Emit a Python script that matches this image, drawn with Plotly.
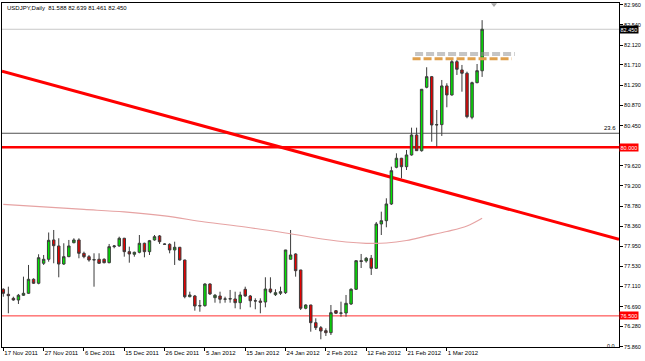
import plotly.graph_objects as go

# ---- data (USDJPY daily, 17 Nov 2011 .. 9 Mar 2012) ----
OPEN = [77.052, 76.948, 76.865, 76.830, 76.928, 76.969, 77.260, 77.177, 77.592, 77.675,
        78.076, 77.951, 77.577, 77.729, 78.019, 78.076, 77.799, 77.729, 77.660, 77.675,
        77.675, 77.604, 77.937, 77.951, 78.111, 77.833, 77.779, 77.820, 78.007, 77.833,
        78.076, 78.159, 77.993, 77.986, 77.868, 77.924, 77.660, 76.898, 76.913, 76.705,
        76.712, 77.162, 76.878, 76.913, 76.845, 76.851, 76.851, 76.774, 77.052, 76.913,
        76.815, 76.809, 76.788, 77.058, 76.940, 76.969, 76.982, 77.675, 77.785, 77.453,
        76.658, 76.726, 76.359, 76.255, 76.193, 76.151, 76.608, 76.554, 76.560, 76.747,
        77.052, 77.646, 77.640, 77.696, 77.488, 78.408, 78.476, 78.823, 79.585, 79.772,
        79.597, 79.840, 80.255, 79.929, 81.246, 81.466, 80.463, 80.470, 81.273, 81.086,
        81.777, 81.605, 81.536, 80.623, 81.341, 81.588]
HIGH = [77.073, 77.106, 76.898, 76.955, 77.314, 77.557, 77.280, 77.779, 77.764, 78.231,
        78.283, 78.111, 78.007, 78.076, 78.111, 78.111, 77.833, 77.764, 77.799, 77.799,
        77.696, 77.993, 77.972, 78.144, 78.120, 77.937, 77.833, 78.179, 78.019, 78.076,
        78.179, 78.179, 78.007, 78.007, 78.040, 77.930, 77.665, 77.002, 76.934, 76.830,
        77.177, 77.177, 76.955, 77.002, 76.898, 77.038, 77.002, 77.002, 77.106, 76.934,
        76.865, 76.865, 77.301, 77.301, 77.052, 77.106, 77.870, 78.283, 77.799, 77.455,
        76.741, 76.730, 76.450, 76.290, 76.242, 76.726, 76.622, 76.795, 76.934, 77.073,
        77.650, 77.785, 77.723, 77.764, 78.449, 78.663, 78.941, 79.597, 79.875, 79.780,
        79.944, 80.407, 80.407, 81.210, 81.661, 81.480, 80.774, 81.397, 81.329, 81.812,
        81.812, 81.709, 81.570, 81.362, 81.729, 82.639]
LOW = [76.898, 76.554, 76.815, 76.747, 76.913, 76.955, 77.162, 77.156, 77.557, 77.625,
       77.592, 77.301, 77.557, 77.720, 78.007, 77.696, 77.696, 77.625, 77.106, 77.577,
       77.590, 77.592, 77.903, 77.937, 77.729, 77.604, 77.729, 77.799, 77.716, 77.764,
       78.061, 77.993, 77.972, 77.799, 77.557, 77.650, 76.865, 76.886, 76.608, 76.587,
       76.691, 76.934, 76.774, 76.761, 76.774, 76.774, 76.658, 76.637, 76.898, 76.678,
       76.637, 76.554, 76.678, 76.969, 76.913, 76.934, 76.955, 77.675, 77.314, 76.622,
       76.637, 76.172, 76.207, 76.014, 76.083, 76.103, 76.539, 76.483, 76.483, 76.726,
       77.038, 77.494, 77.604, 77.349, 77.474, 78.179, 78.339, 78.802, 79.564, 79.356,
       79.529, 79.826, 79.923, 79.909, 81.225, 80.116, 80.013, 80.235, 80.830, 81.071,
       81.501, 81.154, 80.602, 80.581, 81.329, 81.461]
CLOSE = [76.969, 76.919, 76.830, 76.928, 76.969, 77.260, 77.177, 77.708, 77.675, 78.069,
         77.957, 77.577, 77.729, 77.951, 78.076, 77.799, 77.729, 77.660, 77.667, 77.592,
         77.604, 77.937, 77.951, 78.111, 77.833, 77.785, 77.820, 78.007, 77.833, 78.061,
         78.144, 78.040, 77.986, 77.868, 77.924, 77.660, 76.898, 76.934, 76.705, 76.712,
         77.162, 76.955, 76.928, 76.845, 76.851, 76.856, 76.774, 76.934, 76.913, 76.815,
         76.809, 76.782, 77.058, 76.996, 76.982, 77.002, 77.868, 77.764, 77.438, 76.658,
         76.726, 76.359, 76.255, 76.186, 76.151, 76.566, 76.554, 76.560, 76.761, 77.052,
         77.646, 77.630, 77.696, 77.488, 78.408, 78.476, 78.823, 79.514, 79.772, 79.597,
         79.840, 80.255, 79.929, 81.204, 81.466, 80.463, 80.470, 81.273, 81.086, 81.777,
         81.619, 81.536, 80.635, 81.341, 81.590, 82.450]
BAR = list(range(len(OPEN)))

# 200-day moving average, read at selected bars
MA_BAR = [0, 8, 16, 24, 32, 40, 48, 56, 64, 68, 72, 76, 80, 84, 88, 92, 95]
MA_VAL = [78.813, 78.761, 78.709, 78.657, 78.574, 78.449, 78.345, 78.221, 78.086,
          78.034, 78.007, 78.013, 78.065, 78.159, 78.252, 78.366, 78.526]

DATE_BAR = [0, 8, 16, 24, 32, 40, 48, 56, 64, 72, 80, 88]
DATE_LABELS = ["17 Nov 2011", "27 Nov 2011", "6 Dec 2011", "15 Dec 2011", "26 Dec 2011",
               "5 Jan 2012", "15 Jan 2012", "24 Jan 2012", "2 Feb 2012", "12 Feb 2012",
               "21 Feb 2012", "1 Mar 2012"]

PRICE_TICKS = [82.960, 82.540, 82.120, 81.710, 81.290, 80.870, 80.450, 79.620, 79.200,
               78.780, 78.360, 77.950, 77.530, 77.110, 76.690, 76.280, 75.860]
PRICE_LABELS = [f"{v:.3f}" for v in PRICE_TICKS]

BID = 82.450
SUPPORT = 80.000
LOW_LINE = 76.500
FIB_236 = 80.291
TREND_START = (-0.26, 81.58)
TREND_END = (122.16, 78.09)
RESIST_Y = 81.839
RESIST_X = (81.2, 100.9)
SHADOW_Y = 81.937
SHADOW_X = (81.7, 101.5)

FONT = "Liberation Sans"

fig = go.Figure()

fig.add_trace(go.Scatter(x=MA_BAR, y=MA_VAL, mode="lines",
                         line=dict(color="#e6a3a3", width=1.2, shape="spline"),
                         hoverinfo="skip", showlegend=False))

fig.add_trace(go.Candlestick(
    x=BAR, open=OPEN, high=HIGH, low=LOW, close=CLOSE,
    increasing=dict(fillcolor="#00e600", line=dict(color="#3c3c3c", width=1)),
    decreasing=dict(fillcolor="#e60000", line=dict(color="#3c3c3c", width=1)),
    whiskerwidth=0, showlegend=False))

shapes = []
def hline(y, color, width, dash="solid"):
    shapes.append(dict(type="line", xref="paper", x0=0, x1=1, yref="y", y0=y, y1=y,
                       line=dict(color=color, width=width, dash=dash), layer="below"))

hline(BID, "#c8c8c8", 1)
hline(FIB_236, "#505050", 1)
hline(SUPPORT, "#ff0000", 2.5)
hline(LOW_LINE, "#ff3030", 1)
shapes.append(dict(type="line", xref="x", yref="y", x0=TREND_START[0], y0=TREND_START[1],
                   x1=TREND_END[0], y1=TREND_END[1],
                   line=dict(color="#ff0000", width=3), layer="below"))
shapes.append(dict(type="line", xref="x", yref="y", x0=SHADOW_X[0], x1=SHADOW_X[1],
                   y0=SHADOW_Y, y1=SHADOW_Y,
                   line=dict(color="rgba(150,150,150,0.55)", width=4, dash="8px,3px")))
shapes.append(dict(type="line", xref="x", yref="y", x0=RESIST_X[0], x1=RESIST_X[1],
                   y0=RESIST_Y, y1=RESIST_Y,
                   line=dict(color="#e0a04c", width=3, dash="8px,3px")))
# chart-shift marker at top
shapes.append(dict(type="path", xref="paper", yref="paper",
                   path="M 0.7925 0.999 L 0.8023 0.999 L 0.7974 0.9884 Z",
                   fillcolor="#a8a8a8", line=dict(width=0)))

annotations = [
    dict(xref="paper", yref="paper", x=0, y=1, xanchor="left", yanchor="top",
         xshift=3, yshift=0, showarrow=False,
         text="USDJPY,Daily  81.588 82.639 81.461 82.450",
         font=dict(family=FONT, size=6, color="#000000")),
    dict(xref="paper", yref="y", x=1, y=FIB_236, xanchor="right", yanchor="bottom",
         xshift=-1, showarrow=False, text="23.6",
         font=dict(family=FONT, size=6, color="#000000")),
    dict(xref="paper", yref="y", x=1, y=75.875, xanchor="right", yanchor="middle",
         xshift=-2, showarrow=False, text="0.0",
         font=dict(family=FONT, size=5.5, color="#000000")),
]
for val, bg in [(BID, "#000000"), (SUPPORT, "#ff0000"), (LOW_LINE, "#ff0000")]:
    annotations.append(dict(xref="paper", yref="y", x=1, y=val, xanchor="left",
                            yanchor="middle", xshift=0, showarrow=False,
                            text=f"{val:.3f}", bgcolor=bg, borderpad=0.5,
                            font=dict(family=FONT, size=5.5, color="#ffffff")))

fig.update_layout(
    width=645, height=361,
    margin=dict(l=2, r=26, t=3, b=14, pad=0),
    paper_bgcolor="#ffffff", plot_bgcolor="#ffffff",
    showlegend=False,
    shapes=shapes, annotations=annotations,
    xaxis=dict(range=[-0.26, 122.16], showgrid=False, zeroline=False,
               tickvals=DATE_BAR, ticktext=DATE_LABELS, tickangle=0,
               ticks="outside", ticklen=3, tickcolor="#000000",
               ticklabelposition="outside right",
               tickfont=dict(family=FONT, size=6, color="#000000"),
               showline=True, linecolor="#000000", linewidth=1, mirror=True,
               rangeslider=dict(visible=False), fixedrange=True),
    yaxis=dict(range=[75.854, 82.995], side="right", showgrid=False, zeroline=False,
               tickvals=PRICE_TICKS, ticktext=PRICE_LABELS,
               ticks="outside", ticklen=3, tickcolor="#000000",
               tickfont=dict(family=FONT, size=5.5, color="#000000"),
               showline=True, linecolor="#000000", linewidth=1, mirror=True,
               fixedrange=True),
)

fig.write_html("out.html", config={"displayModeBar": False},
               post_script="document.body.style.margin='0px';"
                           "document.body.style.overflow='hidden';")
